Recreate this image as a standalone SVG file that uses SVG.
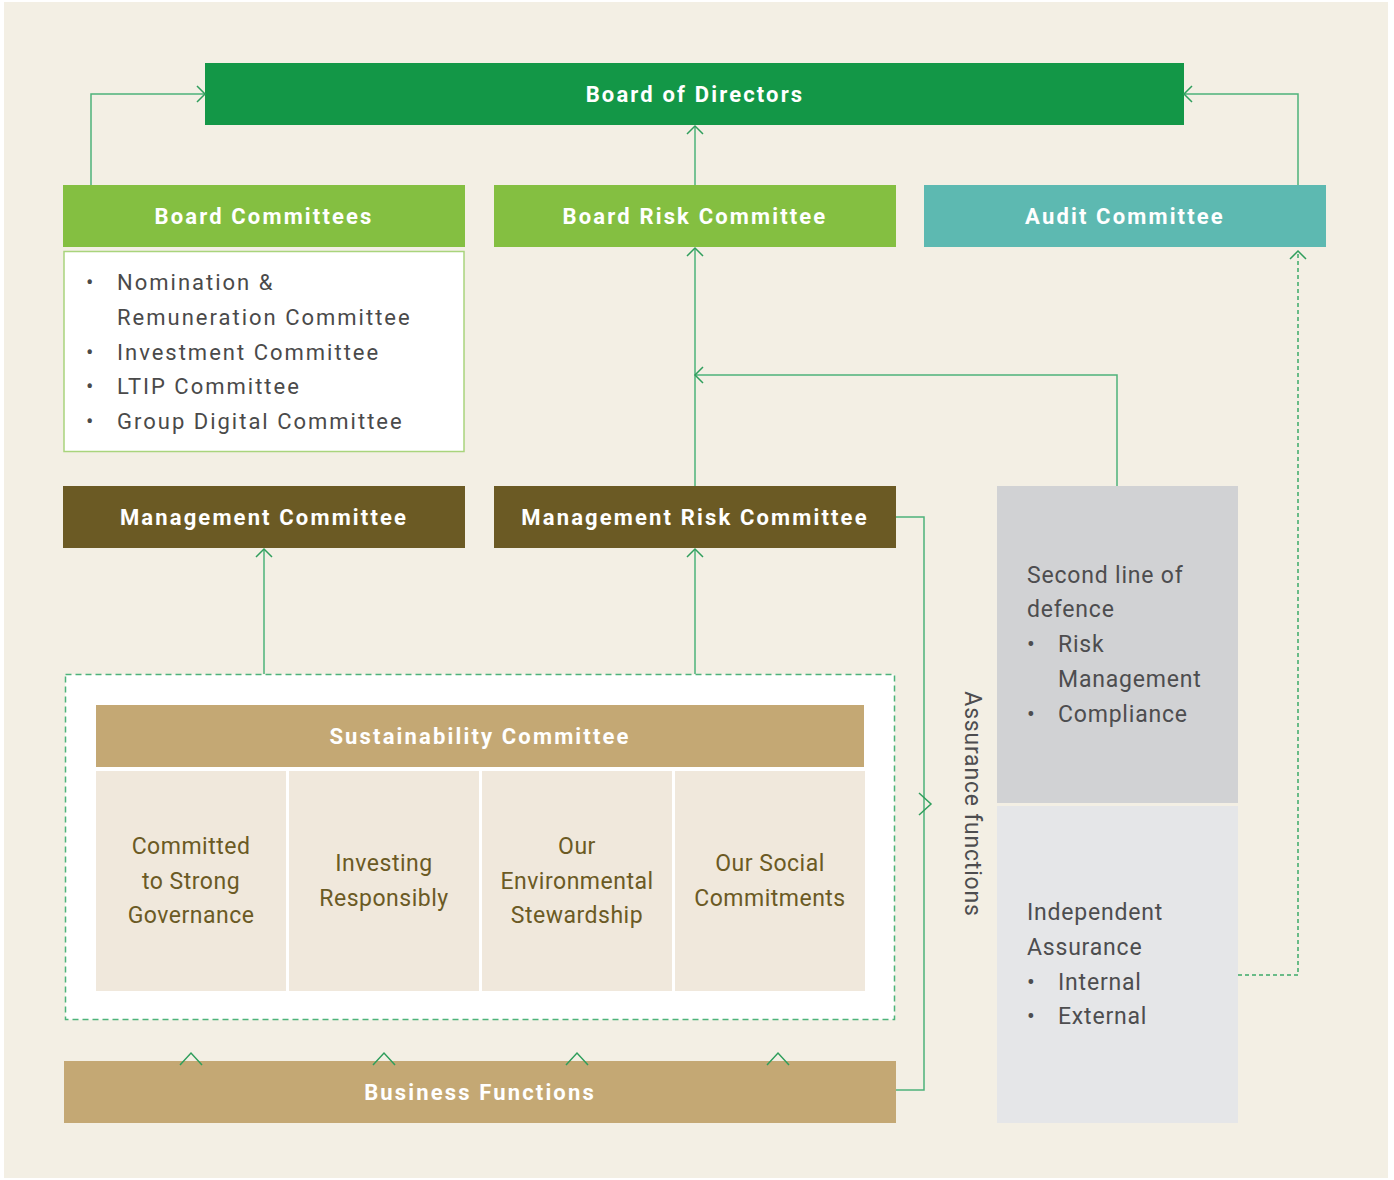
<svg xmlns="http://www.w3.org/2000/svg" width="1394" height="1180" viewBox="0 0 1394 1180">
<style>
.hdr{font-family:Roboto,"Liberation Sans",sans-serif;font-weight:700;font-size:22px;fill:#ffffff;letter-spacing:2.15px;text-anchor:middle}
.lst{font-family:Roboto,"Liberation Sans",sans-serif;font-size:22px;fill:#4a4a4a;letter-spacing:2px}
.gry{font-family:Roboto,"Liberation Sans",sans-serif;font-size:23px;fill:#4d4d4f;letter-spacing:0.8px}
.cel{font-family:Roboto,"Liberation Sans",sans-serif;font-size:23px;fill:#6b5a24;letter-spacing:0.5px;text-anchor:middle}
.ln{fill:none;stroke:#4db37a;stroke-width:1.5}
.dash{fill:none;stroke:#3daa68;stroke-width:1.5;stroke-dasharray:4 3}
.chev{fill:none;stroke:#2f9e5c;stroke-width:1.5}
</style>
<rect x="0" y="0" width="1394" height="1180" fill="#ffffff"/>
<rect x="4" y="2" width="1384" height="1176" fill="#f3efe4"/>

<g id="board-of-directors">
<rect x="205" y="63" width="979" height="62" fill="#139747"/>
<text class="hdr" x="695" y="101.5">Board of Directors</text>
</g>
<g id="board-committees">
<rect x="63" y="185" width="402" height="62" fill="#84bf41"/>
<text class="hdr" x="264" y="223.5">Board Committees</text>
</g>
<g id="board-committees-list">
<rect x="64" y="251.5" width="400" height="200" fill="#ffffff" stroke="#a9d47c" stroke-width="1.5"/>
<text class="lst" x="86" y="290">•</text>
<text class="lst" x="117" y="290">Nomination &amp;</text>
<text class="lst" x="117" y="325">Remuneration Committee</text>
<text class="lst" x="86" y="360">•</text>
<text class="lst" x="117" y="360">Investment Committee</text>
<text class="lst" x="86" y="394">•</text>
<text class="lst" x="117" y="394">LTIP Committee</text>
<text class="lst" x="86" y="429">•</text>
<text class="lst" x="117" y="429">Group Digital Committee</text>
</g>
<g id="board-risk-committee">
<rect x="494" y="185" width="402" height="62" fill="#84bf41"/>
<text class="hdr" x="695" y="223.5">Board Risk Committee</text>
</g>
<g id="audit-committee">
<rect x="924" y="185" width="402" height="62" fill="#5db9b1"/>
<text class="hdr" x="1125" y="223.5">Audit Committee</text>
</g>
<g id="management-committee">
<rect x="63" y="486" width="402" height="62" fill="#6b5a24"/>
<text class="hdr" x="264" y="524.5">Management Committee</text>
</g>
<g id="management-risk-committee">
<rect x="494" y="486" width="402" height="62" fill="#6b5a24"/>
<text class="hdr" x="695" y="524.5">Management Risk Committee</text>
</g>
<g id="second-line">
<rect x="997" y="486" width="241" height="317" fill="#d1d2d4"/>
<text class="gry" x="1027" y="583">Second line of</text>
<text class="gry" x="1027" y="617">defence</text>
<text class="gry" x="1027" y="652">•</text>
<text class="gry" x="1058" y="652">Risk</text>
<text class="gry" x="1058" y="687">Management</text>
<text class="gry" x="1027" y="722">•</text>
<text class="gry" x="1058" y="722">Compliance</text>
</g>
<g id="independent-assurance">
<rect x="997" y="806" width="241" height="317" fill="#e5e6e8"/>
<text class="gry" x="1027" y="920">Independent</text>
<text class="gry" x="1027" y="955">Assurance</text>
<text class="gry" x="1027" y="990">•</text>
<text class="gry" x="1058" y="990">Internal</text>
<text class="gry" x="1027" y="1024">•</text>
<text class="gry" x="1058" y="1024">External</text>
</g>
<g id="sustainability-group">
<rect x="65.5" y="674.5" width="829" height="345" fill="#ffffff" stroke="#4db37a" stroke-width="1.5" stroke-dasharray="6 4"/>
</g>
<g id="sustainability-committee">
<rect x="96" y="705" width="768" height="62" fill="#c4a874"/>
<text class="hdr" x="480" y="743.5">Sustainability Committee</text>
</g>
<g id="cell-governance">
<rect x="96" y="771" width="190" height="220" fill="#f0e8dc"/>
<text class="cel" x="191" y="854">Committed</text>
<text class="cel" x="191" y="889">to Strong</text>
<text class="cel" x="191" y="923">Governance</text>
</g>
<g id="cell-investing">
<rect x="289" y="771" width="190" height="220" fill="#f0e8dc"/>
<text class="cel" x="384" y="871">Investing</text>
<text class="cel" x="384" y="906">Responsibly</text>
</g>
<g id="cell-environment">
<rect x="482" y="771" width="190" height="220" fill="#f0e8dc"/>
<text class="cel" x="577" y="854">Our</text>
<text class="cel" x="577" y="889">Environmental</text>
<text class="cel" x="577" y="923">Stewardship</text>
</g>
<g id="cell-social">
<rect x="675" y="771" width="190" height="220" fill="#f0e8dc"/>
<text class="cel" x="770" y="871">Our Social</text>
<text class="cel" x="770" y="906">Commitments</text>
</g>
<g id="business-functions">
<rect x="64" y="1061" width="832" height="62" fill="#c4a874"/>
<text class="hdr" x="480" y="1099.5">Business Functions</text>
</g>
<g id="assurance-label">
<text class="gry" text-anchor="middle" transform="translate(965,804) rotate(90)">Assurance functions</text>
</g>

<g id="connectors">
<polyline class="ln" points="91,185 91,94 204,94"/>
<path class="chev" d="M197,86 L205,94 L197,102"/>
<polyline class="ln" points="1298,185 1298,94 1185,94"/>
<path class="chev" d="M1192,86 L1184,94 L1192,102"/>
<line class="ln" x1="695" y1="185" x2="695" y2="126"/>
<path class="chev" d="M687,134 L695,126 L703,134"/>
<line class="ln" x1="695" y1="486" x2="695" y2="248"/>
<path class="chev" d="M687,256 L695,248 L703,256"/>
<polyline class="ln" points="1117,486 1117,375 696,375"/>
<path class="chev" d="M703,367 L695,375 L703,383"/>
<line class="ln" x1="264" y1="674" x2="264" y2="549"/>
<path class="chev" d="M256,557 L264,549 L272,557"/>
<line class="ln" x1="695" y1="674" x2="695" y2="549"/>
<path class="chev" d="M687,557 L695,549 L703,557"/>
<polyline class="ln" points="896,517 924,517 924,1090 896,1090"/>
<path class="chev" d="M919,793 L931,804 L919,815"/>
<polyline class="dash" points="1238,975 1298,975 1298,252"/>
<path class="chev" d="M1290,259 L1298,251 L1306,259"/>
<path class="chev" d="M180,1065 L191,1053 L202,1065"/>
<path class="chev" d="M373,1065 L384,1053 L395,1065"/>
<path class="chev" d="M566,1065 L577,1053 L588,1065"/>
<path class="chev" d="M767,1065 L778,1053 L789,1065"/>
</g>
</svg>
